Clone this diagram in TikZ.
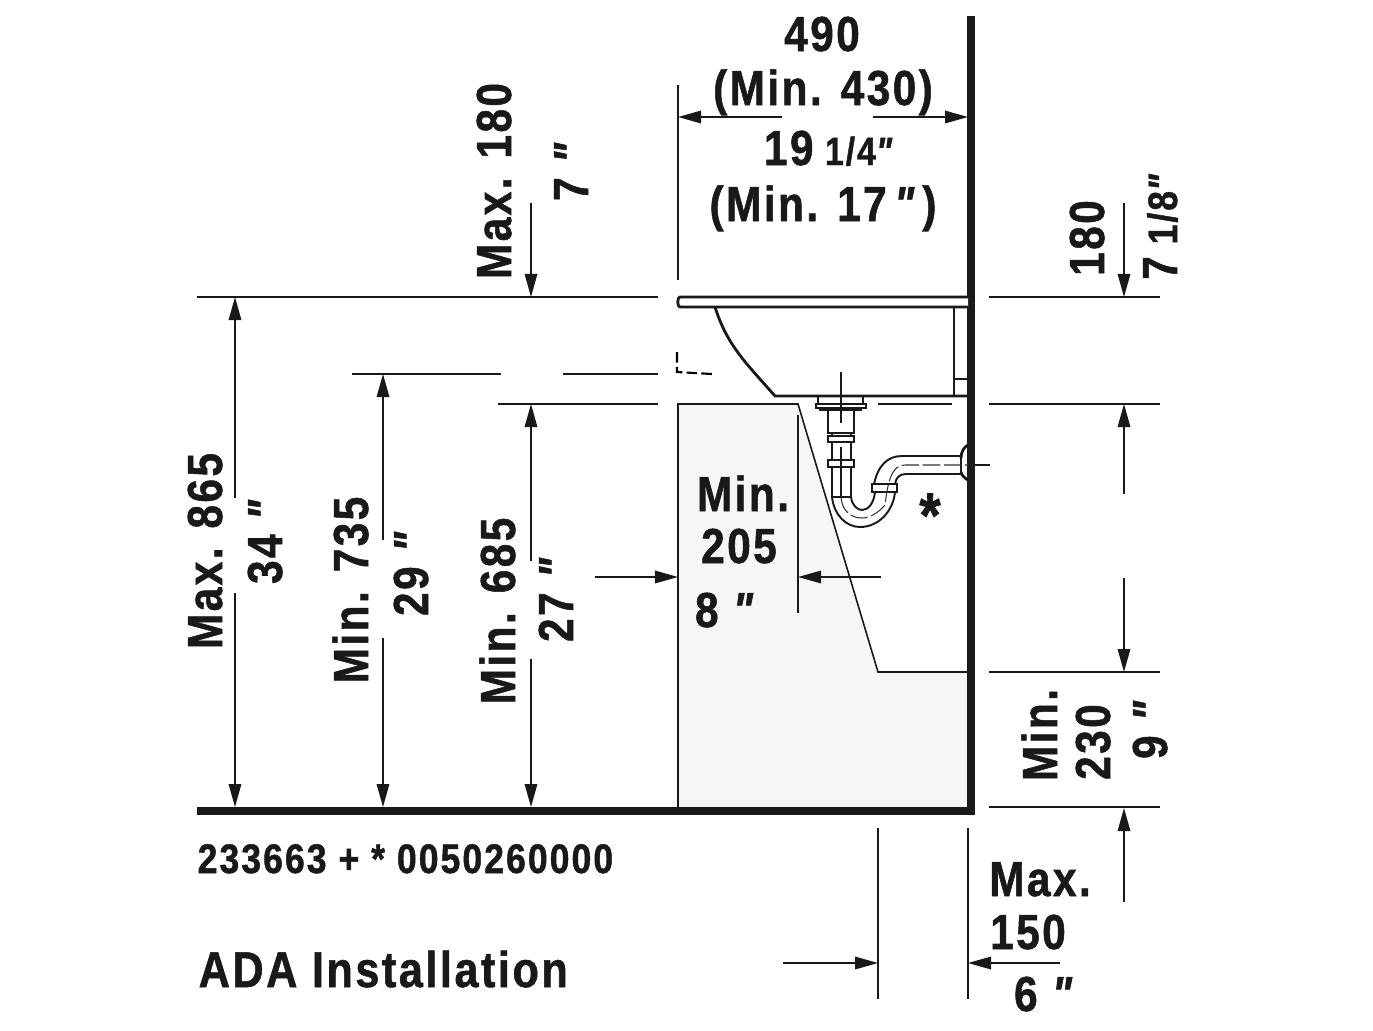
\documentclass[tikz,border=0pt]{standalone}
\usepackage{fontspec}
\usetikzlibrary{arrows.meta}
\newfontfamily\dimfont[FakeStretch=0.86,LetterSpace=5,FakeBold=1.1]{Liberation Sans}
\newcommand{\inchmark}{{\itshape"}}
\tikzset{
  >={Triangle[length=0.23cm,width=0.125cm]},
  thinline/.style={line width=0.45pt, black!90},
  sinkline/.style={line width=0.8pt, black!90},
  wallline/.style={line width=2.05pt, black!90},
  pipeline/.style={line width=0.55pt, black!90},
  axisline/.style={line width=0.3pt, black!80, dash pattern=on 5pt off 1pt},
  dimlabel/.style={font=\dimfont\bfseries\fontsize{14}{16}\selectfont, text=black!90,
    inner sep=0pt, text height=0.32cm, text depth=0pt, anchor=center},
  dimup/.style={dimlabel, rotate=90},
}

\begin{document}
\begin{tikzpicture}[x=0.01cm, y=-0.01cm]
        \useasboundingbox (0,0) rectangle (1373,1030);

        % cabinet
        \draw[thinline, fill=black!3.5] (678,808) -- (678,404) -- (798,404) -- (878,672) -- (968,672) -- (968,808) -- cycle;

        % wall and floor
        \draw[wallline] (971,16) -- (971,811) -- (197,811);

        % sink
        \draw[sinkline, fill=white] (968,297) -- (680,297) .. controls (677,297) and (677,307) .. (680,307) -- (968,307);
        \draw[sinkline] (715,307) .. controls (727,345) and (745,362) .. (775,396) -- (968,396);
        \draw[sinkline] (954,307) -- (954,396)
                        (954,379) -- (968,379);
        \draw[line width=0.6pt, dash pattern=on 3pt off 1.2pt] (677,352) -- (677,372) -- (712,374);
        \draw[thinline] (878,404) -- (952,404);

        % drain
        \draw[sinkline] (818,396) -- (818,404) (863,396) -- (863,404);
        \draw[pipeline, fill=white] (816,404) rectangle (866,408);
        \draw[pipeline] (820,408) -- (820,410) -- (861,410) -- (861,408);
        \draw[pipeline, fill=white] (828,410) rectangle (854,433);
        \draw[pipeline] (832,433) -- (832,497) (851,433) -- (851,497);
        \draw[pipeline, fill=white] (828,436) rectangle (854,442);
        \draw[pipeline, fill=white] (828,460) rectangle (854,467);
        \draw[pipeline] (832,497) -- (851,497);
        \draw[pipeline] (832,497) .. controls (834,515) and (846,527) .. (860,527) .. controls (878,527) and (893,512) .. (895,492);
        \draw[pipeline] (851,497) .. controls (852,505) and (857,510) .. (862,510) .. controls (869,510) and (874,502) .. (875,492);
        \draw[pipeline, fill=white] (872,484) rectangle (897,492);
        \draw[pipeline] (874,484) .. controls (878,466) and (887,456) .. (902,456) -- (961,456);
        \draw[pipeline] (895,484) .. controls (896,478) and (899,474) .. (906,474) -- (961,474);
        \draw[pipeline] (961,458) -- (961,472);
        \draw[sinkline] (961,458) .. controls (961,452) and (964,447) .. (968,445);
        \draw[sinkline] (961,472) .. controls (961,474) and (964,478) .. (968,480);

        % centre lines
        \draw[thinline] (841,372) -- (841,423)
                        (841,447) -- (841,497)
                        (968,465) -- (990,465);
        \draw[axisline] (841,497) .. controls (842,510) and (850,518) .. (862,518) .. controls (870,518) and (878,513) .. (885,505)
                        .. controls (888,480) and (892,465) .. (905,465) -- (968,465);

        % extension lines
        \foreach \ya/\xa/\xb in {297/197/658, 297/989/1160, 374/352/501, 374/563/658, 404/498/658,
                                 404/989/1160, 672/989/1160, 807/989/1160}
          \draw[thinline] (\xa,\ya) -- (\xb,\ya);
        \foreach \xa/\ya/\yb in {678/85/280, 798/415/613, 878/828/999, 968/828/999}
          \draw[thinline] (\xa,\ya) -- (\xa,\yb);

        % dimension arrows
        \draw[thinline, <-] (235,297) -- (235,498);
        \draw[thinline, ->] (235,593) -- (235,807);
        \draw[thinline, <-] (383,374) -- (383,540);
        \draw[thinline, ->] (383,638) -- (383,807);
        \draw[thinline, <-] (531,404) -- (531,561);
        \draw[thinline, ->] (531,659) -- (531,807);
        \draw[thinline, ->] (531,203) -- (531,297);
        \draw[thinline, ->] (1124,203) -- (1124,297);
        \draw[thinline, <-] (1124,404) -- (1124,494);
        \draw[thinline, ->] (1124,578) -- (1124,672);
        \draw[thinline, <-] (1124,808) -- (1124,902);
        \draw[thinline, <-] (678,117) -- (782,117);
        \draw[thinline, ->] (873,117) -- (968,117);
        \draw[thinline, ->] (595,577) -- (678,577);
        \draw[thinline, ->] (881,577) -- (798,577);
        \draw[thinline, ->] (783,963) -- (878,963);
        \draw[thinline, ->] (1060,963) -- (968,963);

        % labels
        \node[dimlabel] (depth) at (822,35) {490};
        \node[dimlabel] (depthmin) at (823,89) {(Min. 430)};
        \node[dimlabel] (depthin) at (828,149) {19{\fontsize{11.2}{13}\selectfont\ 1/4\inchmark}};
        \node[dimlabel] (depthminin) at (823,205) {(Min. 17\hspace{0.15em}\inchmark\,)};
        \node[dimup] (rimmax) at (495,181) {Max. 180};
        \node[dimup] (rimmaxin) at (572,172) {7 \inchmark};
        \node[dimup] (rim) at (1088,238) {180};
        \node[dimup] (rimin) at (1161,227) {7{\fontsize{11.7}{13}\selectfont\ 1/8\inchmark}};
        \node[dimup] (heightmax) at (206,551) {Max. 865};
        \node[dimup] (heightmaxin) at (266,542) {34 \inchmark};
        \node[dimup] (kneemin) at (352,590) {Min. 735};
        \node[dimup] (kneeminin) at (412,574) {29 \inchmark};
        \node[dimup] (toemin) at (499,611) {Min. 685};
        \node[dimup] (toeminin) at (557,600) {27 \inchmark};
        \node[dimlabel] (gapmin) at (743,495) {Min.};
        \node[dimlabel] (gap) at (739,547) {205};
        \node[dimlabel] (gapin) at (724,611) {8 \inchmark};
        \node[dimup] (clearmin) at (1041,735) {Min.};
        \node[dimup] (clear) at (1094,742) {230};
        \node[dimup] (clearin) at (1151,730) {9 \inchmark};
        \node[dimlabel] (toemax) at (1040,880) {Max.};
        \node[dimlabel] (toe) at (1028,933) {150};
        \node[dimlabel] (toein) at (1043,995) {6 \inchmark};
        \node[dimlabel, font=\dimfont\bfseries\fontsize{18}{20}\selectfont] (star) at (930,521) {*};
        \node[dimlabel, anchor=west, text height=0.3cm, font=\dimfont\bfseries\fontsize{11.75}{14}\selectfont] (article) at (197,858) {233663 + * 0050260000};
        \node[dimlabel, anchor=west, text height=0.38cm, font=\dimfont\bfseries\fontsize{14.3}{17}\selectfont] (title) at (198,968) {ADA Installation};

\end{tikzpicture}
\end{document}
